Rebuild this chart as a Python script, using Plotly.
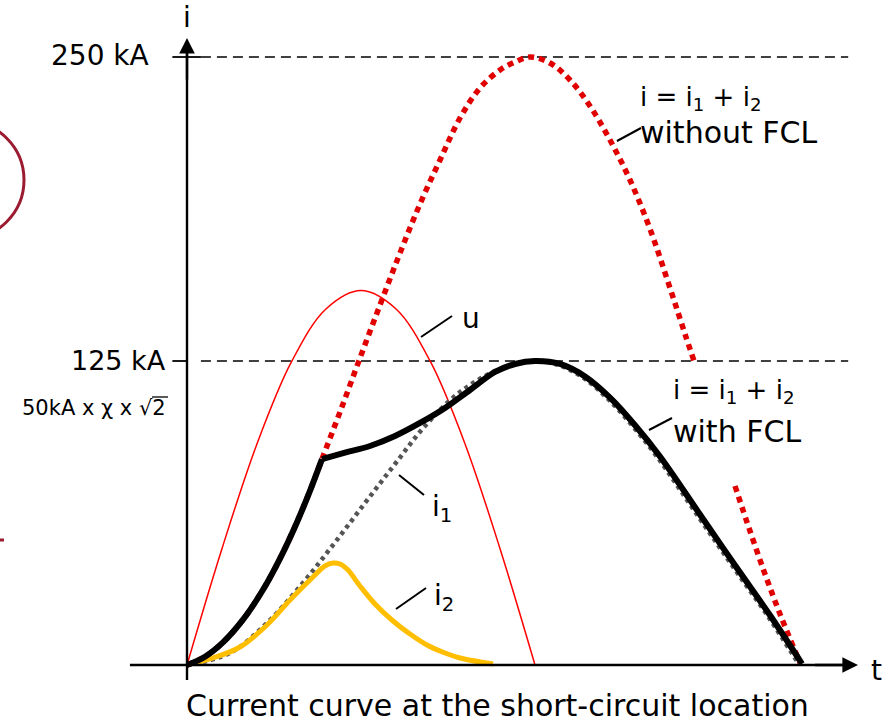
import plotly.graph_objects as go

# ---------------- data (time in ms, current in kA) ----------------
# voltage u (thin red)
u_t = [0, 1, 2, 3, 4, 5, 6, 7, 8, 9, 10]
u_v = [0, 47.6, 90.5, 124.6, 146.5, 154, 146.5, 124.6, 90.5, 47.6, 0]

# i2 (yellow)
i2_t = [0, 0.747, 1.523, 2.299, 2.960, 3.621, 3.966, 4.195, 4.397, 4.626, 4.971, 5.402,
        5.920, 6.408, 6.897, 7.414, 7.845, 8.793]
i2_v = [0, 2.88, 7.40, 16.45, 26.73, 36.18, 40.71, 41.94, 41.53, 39.06, 32.48, 25.08,
        18.09, 12.75, 8.22, 4.93, 2.88, 0.41]

# i1 (grey dotted)
i1_t = [0, 1.236, 2.328, 3.305, 4.195, 5.115, 5.977, 6.839, 7.845, 8.994, 10.0,
        10.66, 11.38, 12.10, 12.82, 13.53, 14.68, 15.69, 16.70, 17.56]
i1_v = [0, 4.93, 17.68, 33.31, 49.34, 66.61, 82.65, 98.27, 112.25, 121.71, 125.0,
        123.4, 118.2, 109.4, 98.0, 85.2, 61.3, 40.4, 19.9, 0.8]

# common rise of i until the FCL trips
rise_t = [0, 0.517, 1.034, 1.609, 2.184, 2.672, 3.161, 3.534, 3.879]
rise_v = [0, 3.41, 9.29, 18.63, 30.92, 43.75, 58.72, 71.63, 84.66]

# i = i1 + i2 without FCL (red dotted): continuation after the rise, and tail part
nf_t1 = [4.397, 4.971, 5.546, 6.121, 6.695, 7.270, 7.845, 8.420, 8.994, 9.425, 9.856, 10.431,
         11.006, 11.580, 12.155, 12.730, 13.305, 13.879, 14.310, 14.598]
nf_v1 = [104.03, 126.23, 148.03, 169.41, 189.56, 207.65, 224.92, 237.25, 244.65, 247.94, 250.0,
         247.53, 240.54, 229.85, 215.87, 199.42, 179.28, 155.02, 136.10, 123.77]
nf_t2 = [15.747, 16.178, 16.609, 17.040, 17.615]
nf_v2 = [73.60, 55.10, 37.42, 20.97, 0.8]

# i = i1 + i2 with FCL (black): limited current after the rise
wf_t2 = [4.540, 5.259, 5.977, 6.695, 7.414, 8.132, 8.851, 9.425, 10.0, 10.718, 11.437,
         12.155, 12.874, 13.592, 14.741, 15.747, 16.753, 17.672]
wf_v2 = [87.3, 90.05, 94.16, 99.51, 105.67, 113.08, 120.48, 123.77, 125.0, 123.77, 118.63,
         109.91, 98.60, 85.73, 61.88, 40.99, 20.44, 0.5]

levels = [250, 125]
level_labels = ["250 kA", "125 kA"]

# ---------------- figure ----------------
W, H = 892, 722
PX_PER_MS = 34.8
PX_PER_KA = 2.432
X0, Y0 = 187, 665  # origin pixel

def P(x, y):
    return x / W, 1 - y / H

fig = go.Figure()

fig.add_trace(go.Scatter(x=u_t, y=u_v, mode="lines", line=dict(color="#FF0000", width=1.5, shape="spline"),
                         hoverinfo="skip"))
fig.add_trace(go.Scatter(x=i1_t, y=i1_v, mode="lines",
                         line=dict(color="#555555", width=4.5, dash="4px,4px", shape="spline"),
                         hoverinfo="skip"))
fig.add_trace(go.Scatter(x=i2_t, y=i2_v, mode="lines", line=dict(color="#FFBF00", width=5, shape="spline"),
                         hoverinfo="skip"))
fig.add_trace(go.Scatter(x=rise_t + nf_t1, y=rise_v + nf_v1, mode="lines",
                         line=dict(color="#E00000", width=5.5, dash="6px,5px", shape="spline"),
                         hoverinfo="skip"))
fig.add_trace(go.Scatter(x=nf_t2, y=nf_v2, mode="lines",
                         line=dict(color="#E00000", width=5.5, dash="6px,5px", shape="spline"),
                         hoverinfo="skip"))
fig.add_trace(go.Scatter(x=rise_t, y=rise_v, mode="lines", line=dict(color="#000000", width=6, shape="spline"),
                         hoverinfo="skip"))
fig.add_trace(go.Scatter(x=rise_t[-1:] + wf_t2, y=rise_v[-1:] + wf_v2, mode="lines",
                         line=dict(color="#000000", width=6, shape="spline"), hoverinfo="skip"))

t_left = -X0 / PX_PER_MS
t_right = (W - X0) / PX_PER_MS
k_bot = (Y0 - H) / PX_PER_KA
k_top = Y0 / PX_PER_KA

shapes = []
# dashed reference levels and ticks
for lv in levels:
    shapes.append(dict(type="line", xref="x", yref="y", x0=0.4, x1=19.0, y0=lv, y1=lv,
                       line=dict(color="black", width=1.6, dash="10px,6px"), layer="below"))
    shapes.append(dict(type="line", xref="x", yref="y", x0=-0.42, x1=0.4 if lv == 250 else 0, y0=lv, y1=lv,
                       line=dict(color="black", width=1.8)))
# axis lines
shapes.append(dict(type="line", xref="x", yref="y", x0=0, x1=0, y0=-6.2, y1=252,
                   line=dict(color="black", width=2.4)))
shapes.append(dict(type="line", xref="x", yref="y", x0=-1.64, x1=19.0, y0=0, y1=0,
                   line=dict(color="black", width=2.4)))
# leader lines
for (a, b, c, d) in [(617, 141, 641, 128), (649, 430, 672, 418), (421, 337, 452, 316),
                     (399, 475, 424, 495), (396, 609, 426, 588)]:
    xa, ya = P(a, b)
    xb, yb = P(c, d)
    shapes.append(dict(type="line", xref="paper", yref="paper", x0=xa, y0=ya, x1=xb, y1=yb,
                       line=dict(color="black", width=2)))
# overline of the square root
ox0, oy0 = P(152, 397)
ox1, _ = P(168, 397)
shapes.append(dict(type="line", xref="paper", yref="paper", x0=ox0, x1=ox1, y0=oy0, y1=oy0,
                   line=dict(color="black", width=1.3)))
# burgundy circle fragment at the left edge
cx0, cy0 = P(-94, 121)
cx1, cy1 = P(24, 239)
shapes.append(dict(type="circle", xref="paper", yref="paper", x0=cx0, x1=cx1, y0=cy1, y1=cy0,
                   line=dict(color="#9B1B30", width=3)))
mx0, my0 = P(0, 540)
mx1, _ = P(4, 540)
shapes.append(dict(type="line", xref="paper", yref="paper", x0=mx0, x1=mx1, y0=my0, y1=my0,
                   line=dict(color="#9B1B30", width=3)))

FONT = "DejaVu Sans, Noto Sans, sans-serif"

anns = []
# arrowheads of axes
anns.append(dict(x=0, y=(Y0 - 38) / PX_PER_KA, ax=0, ay=240, xref="x", yref="y", axref="x", ayref="y",
                 text="", showarrow=True, arrowhead=2, arrowsize=1.3, arrowwidth=2.4, arrowcolor="black",
                 standoff=0, font=dict(size=12)))
anns.append(dict(x=(858 - X0) / PX_PER_MS, y=0, ax=18.0, ay=0, xref="x", yref="y", axref="x", ayref="y",
                 text="", showarrow=True, arrowhead=2, arrowsize=1.3, arrowwidth=2.4, arrowcolor="black",
                 standoff=0, font=dict(size=12)))

def txt(s, x, y, size=28, anchor="left"):
    px, py = P(x, y)
    anns.append(dict(text=s, x=px, y=py, xref="paper", yref="paper", showarrow=False,
                     xanchor=anchor, yanchor="middle", font=dict(family=FONT, size=size, color="black")))

txt("i", 187, 18, 28, "center")
txt("t", 876, 670, 28, "center")
txt(level_labels[0], 151, 55, 28, "right")
txt(level_labels[1], 168, 360, 27, "right")
txt("50kA x χ x √2", 168, 408, 21, "right")
txt("i = i<sub>1</sub> + i<sub>2</sub>", 638, 98, 26)
txt("without FCL", 638, 132, 30)
txt("i = i<sub>1</sub> + i<sub>2</sub>", 671, 391, 26)
txt("with FCL", 671, 432, 30)
txt("u", 460, 318, 28)
txt("i<sub>1</sub>", 430, 508, 28)
txt("i<sub>2</sub>", 432, 597, 28)
txt("Current curve at the short-circuit location", 497, 705, 30, "center")

fig.update_layout(
    width=W, height=H, autosize=False,
    margin=dict(l=0, r=0, t=0, b=0),
    paper_bgcolor="white", plot_bgcolor="white",
    showlegend=False,
    xaxis=dict(range=[t_left, t_right], visible=False, fixedrange=True),
    yaxis=dict(range=[k_bot, k_top], visible=False, fixedrange=True),
    shapes=shapes, annotations=anns,
)

fig.write_html("out.html", config={"displayModeBar": False, "staticPlot": True},
               post_script="document.body.style.margin='0';document.body.style.overflow='hidden';")
